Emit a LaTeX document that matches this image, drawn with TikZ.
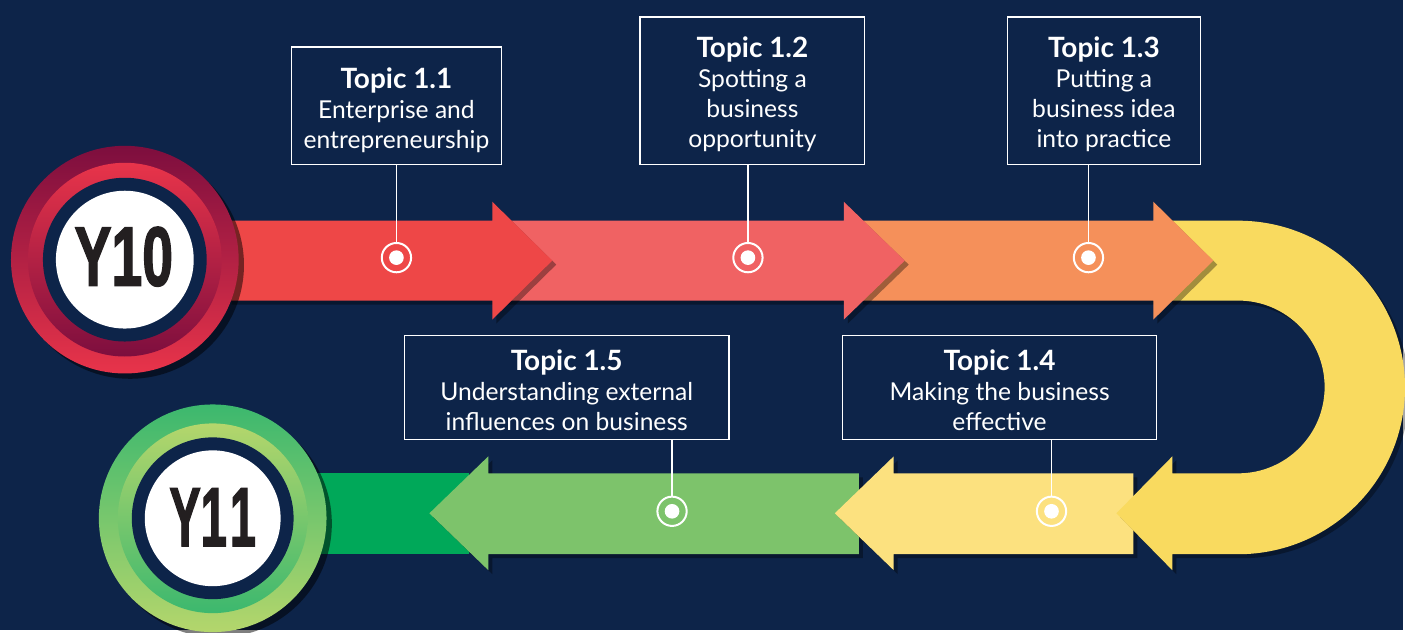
\documentclass[tikz,border=0pt]{standalone}
\usepackage{fontspec}
\setmainfont{Lato}
\newfontfamily\yearfont[FakeBold=2]{Liberation Sans}
\usetikzlibrary{shadows}

\definecolor{navy}{RGB}{13,36,73}
\definecolor{redarrow}{RGB}{238,71,71}
\definecolor{salmonarrow}{RGB}{240,98,99}
\definecolor{orangearrow}{RGB}{245,144,90}
\definecolor{uturn}{RGB}{249,218,95}
\definecolor{paleyellow}{RGB}{252,225,127}
\definecolor{greenarrow}{RGB}{125,195,107}
\definecolor{darkgreen}{RGB}{0,168,89}
\definecolor{wine}{RGB}{125,14,62}
\definecolor{crimson}{RGB}{232,52,74}
\definecolor{leaf}{RGB}{60,184,110}
\definecolor{lime}{RGB}{180,214,108}
\definecolor{ink}{RGB}{35,31,32}

\tikzset{
  topicbox/.style={draw=white, line width=1pt, fill=navy, text=white, align=center, inner sep=0pt, font=\fontsize{18.5}{22.5}\selectfont},
  marker/.style={circle, draw=white, line width=1.5pt, minimum size=22pt, inner sep=0pt, path picture={\fill[white] (path picture bounding box.center) circle (5.5pt);}},
  stem/.style={draw=white, line width=0.9pt},
  yeartext/.style={text=ink, inner sep=0pt, font=\yearfont\bfseries\fontsize{63}{63}\selectfont},
  arrowshadow/.style={drop shadow={shadow xshift=3pt, shadow yshift=-3pt, opacity=0.35, fill=black}}
}
\newcommand{\topichead}[1]{{\bfseries\fontsize{21}{22.5}\selectfont\rule{0pt}{20pt}Topic #1}}

\begin{document}
\begin{tikzpicture}[x=0.75pt,y=0.75pt,yscale=-1,xscale=1]
%Background
\fill[navy] (0,0) rectangle (1405,631);

%Bottom lane: dark green band
\fill[darkgreen] (300,474) -- (470,474) -- (470,555) -- (300,555) -- cycle;
%Shape: Left Arrow (green)
\fill[greenarrow, arrowshadow] (860,474) -- (489,474) -- (489,457) -- (430,514) -- (489,571) -- (489,555) -- (860,555) -- cycle;
%Shape: Left Arrow (pale yellow)
\fill[paleyellow, arrowshadow] (1135,474) -- (895,474) -- (895,457) -- (836,514) -- (895,571) -- (895,555) -- (1135,555) -- cycle;
%Shape: U-Turn Arrow
\fill[uturn, arrowshadow] (1170,221) -- (1240,221) arc (-90:90:167) -- (1174,555) -- (1174,571) -- (1118,514) -- (1174,457) -- (1174,474) -- (1240,474) arc (90:-90:86.5) -- (1170,301) -- cycle;

%Top lane, right to left
%Shape: Right Arrow (orange)
\fill[orangearrow, arrowshadow] (860,221) -- (1155,221) -- (1155,202) -- (1215,261) -- (1155,320) -- (1155,301) -- (860,301) -- cycle;
%Shape: Right Arrow (salmon)
\fill[salmonarrow, arrowshadow] (500,221) -- (845,221) -- (845,202) -- (906,261) -- (845,320) -- (845,301) -- (500,301) -- cycle;
%Shape: Right Arrow (red)
\fill[redarrow, arrowshadow] (228,221) -- (493,221) -- (493,202) -- (553,261) -- (493,320) -- (493,301) -- (228,301) -- cycle;

%Year badge Y10
\shade[top color=wine, bottom color=crimson, drop shadow={shadow xshift=4pt, shadow yshift=-4pt, opacity=0.5, fill=black}] (125,260) circle (114);
\shade[top color=crimson, bottom color=wine] (125,260) circle (97);
\fill[navy] (125,260) circle (82);
\fill[white] (125,260) circle (69);
\node[yeartext] (y10) at (124,257) {\scalebox{0.66}[1]{Y10}};

%Year badge Y11
\shade[top color=leaf, bottom color=lime, drop shadow={shadow xshift=4pt, shadow yshift=-4pt, opacity=0.5, fill=black}] (213,519) circle (114);
\shade[top color=lime, bottom color=leaf] (213,519) circle (95);
\fill[navy] (213,519) circle (81);
\fill[white] (213,519) circle (68);
\node[yeartext] (y11) at (213,518) {\scalebox{0.56}[1]{Y1\kern4pt1}};

%Markers
\node[marker] (m11) at (397,258) {};
\node[marker] (m12) at (749,258) {};
\node[marker] (m13) at (1090,258) {};
\node[marker] (m14) at (1053,512) {};
\node[marker] (m15) at (673,512) {};

% Text Node
\node[topicbox, minimum width=157.5pt, minimum height=88.5pt] (t11) at (397,106) {\topichead{1.1}\rule{0pt}{22pt}\\Enterprise and\\entrepreneurship};
\node[topicbox, minimum width=168.75pt, minimum height=111pt] (t12) at (753.5,91) {\topichead{1.2}\\Spotting a\\business\\opportunity};
\node[topicbox, minimum width=144.75pt, minimum height=111pt] (t13) at (1105.5,91) {\topichead{1.3}\\Putting a\\business idea\\into practice};
\node[topicbox, minimum width=235.5pt, minimum height=78pt] (t14) at (1001,388) {\topichead{1.4}\\Making the business\\effective};
\node[topicbox, minimum width=243.75pt, minimum height=78pt] (t15) at (567.5,388) {\topichead{1.5}\\Understanding external\\influences on business};

%Straight Lines
\draw[stem] (t11.south) -- (m11.north);
\draw[stem] (t12.south -| m12) -- (m12.north);
\draw[stem] (t13.south -| m13) -- (m13.north);
\draw[stem] (t14.south -| m14) -- (m14.north);
\draw[stem] (t15.south -| m15) -- (m15.north);
\end{tikzpicture}
\end{document}
